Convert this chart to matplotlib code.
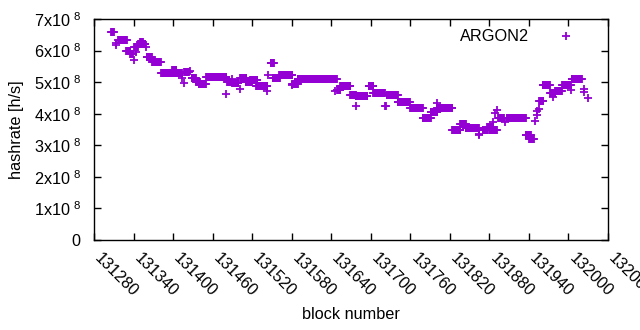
import numpy as np
import matplotlib
matplotlib.use("Agg")
import matplotlib.pyplot as plt
from matplotlib.ticker import FuncFormatter

plt.rcParams['font.family'] = ['Liberation Sans', 'DejaVu Sans']
plt.rcParams['mathtext.fontset'] = 'custom'
plt.rcParams['mathtext.rm'] = 'Liberation Sans'
plt.rcParams['mathtext.default'] = 'regular'

# runs of blocks with the same hashrate (start block, end block, hashrate in 1e8 h/s)
run_start = [131306, 131313, 131314, 131317, 131329, 131335, 131340, 131344, 131341, 131347,
             131350, 131359, 131360, 131368, 131382, 131399, 131414, 131416, 131417, 131426,
             131428, 131435, 131439, 131450, 131481, 131482, 131489, 131490, 131501, 131502,
             131510, 131517, 131526, 131542, 131544, 131548, 131551, 131561, 131581, 131580,
             131589, 131646, 131649, 131654, 131669, 131677, 131677, 131697, 131704, 131722,
             131723, 131724, 131741, 131760, 131779, 131791, 131800, 131801, 131824, 131836,
             131844, 131864, 131865, 131870, 131877, 131880, 131886, 131889, 131891, 131893,
             131903, 131906, 131935, 131940, 131949, 131952, 131953, 131955, 131956, 131961,
             131972, 131976, 131980, 131990, 132004, 132005, 132023, 132023, 132029]
run_end = [131310, 131313, 131314, 131330, 131335, 131339, 131340, 131344, 131347, 131358,
           131354, 131359, 131368, 131381, 131413, 131405, 131414, 131416, 131424, 131426,
           131435, 131441, 131450, 131481, 131481, 131490, 131489, 131499, 131501, 131511,
           131520, 131528, 131543, 131542, 131544, 131553, 131562, 131581, 131589, 131580,
           131648, 131646, 131654, 131669, 131677, 131677, 131695, 131704, 131721, 131722,
           131723, 131741, 131759, 131779, 131791, 131801, 131800, 131824, 131836, 131844,
           131864, 131864, 131865, 131877, 131885, 131891, 131886, 131889, 131891, 131902,
           131903, 131935, 131943, 131947, 131949, 131952, 131953, 131955, 131962, 131972,
           131980, 131976, 131990, 132004, 132004, 132020, 132023, 132023, 132029]
run_value = [6.60, 6.18, 6.25, 6.35, 6.00, 5.88, 5.71, 5.95, 6.10, 6.22,
             6.28, 6.10, 5.80, 5.63, 5.28, 5.40, 5.12, 4.97, 5.33, 5.36,
             5.12, 5.02, 4.93, 5.17, 4.62, 5.00, 5.11, 4.96, 4.79, 5.12,
             5.00, 5.06, 4.88, 4.71, 5.22, 5.60, 5.12, 5.22, 4.93, 4.90,
             5.11, 4.71, 4.74, 4.87, 4.58, 4.26, 4.55, 4.87, 4.65, 4.26,
             4.23, 4.58, 4.37, 4.18, 3.88, 4.07, 4.35, 4.17, 3.47, 3.69,
             3.56, 3.35, 3.31, 3.50, 3.59, 3.50, 3.73, 4.02, 4.12, 3.88,
             3.73, 3.88, 3.31, 3.21, 3.76, 3.97, 4.10, 4.14, 4.41, 4.92,
             4.65, 4.53, 4.71, 4.90, 4.76, 5.11, 4.79, 4.68, 4.50]

x_ticks = list(range(131280, 132061, 60))

blocks = np.concatenate([np.arange(s, e + 1) for s, e in zip(run_start, run_end)])
rates = np.concatenate([np.full(e - s + 1, v * 1e8) for s, e, v in zip(run_start, run_end, run_value)])

fs = 11.7
fig = plt.figure(figsize=(6.4, 3.3), dpi=100)
ax = fig.add_axes([94 / 640, 1 - 240 / 330, 514 / 640, 221 / 330])

ax.plot(blocks, rates, '+', color='#9400d3', ms=6, mew=1.3, label='ARGON2')

ax.set_xlim(131280, 132060)
ax.set_ylim(0, 7e8)
ax.set_xticks(x_ticks)
ax.set_yticks(np.arange(0, 8) * 1e8)
ax.yaxis.set_major_formatter(FuncFormatter(
    lambda v, p: '0' if v == 0 else '%dx10$^{\\ 8}$' % round(v / 1e8)))
ax.tick_params(direction='in', length=5, top=True, right=True, labelsize=fs, width=1)
ax.tick_params(axis='y', pad=9.5)
ax.tick_params(axis='x', pad=14)
for lab in ax.get_xticklabels():
    lab.set_rotation(-45)
    lab.set_ha('left')
    lab.set_va('baseline')
    lab.set_rotation_mode('anchor')
for sp in ax.spines.values():
    sp.set_linewidth(1)

ax.set_xlabel('block number', fontsize=fs, va='top')
ax.xaxis.set_label_coords(0.5, -0.305)
ax.set_ylabel('hashrate [h/s]', fontsize=fs)
ax.yaxis.set_label_coords(-0.136, 0.5)

ax.legend(loc='upper right', frameon=False, markerfirst=False, fontsize=fs,
          bbox_to_anchor=(0.97, 1.02), handlelength=1.5, handletextpad=1.5)

fig.savefig('out.png', dpi=100)
